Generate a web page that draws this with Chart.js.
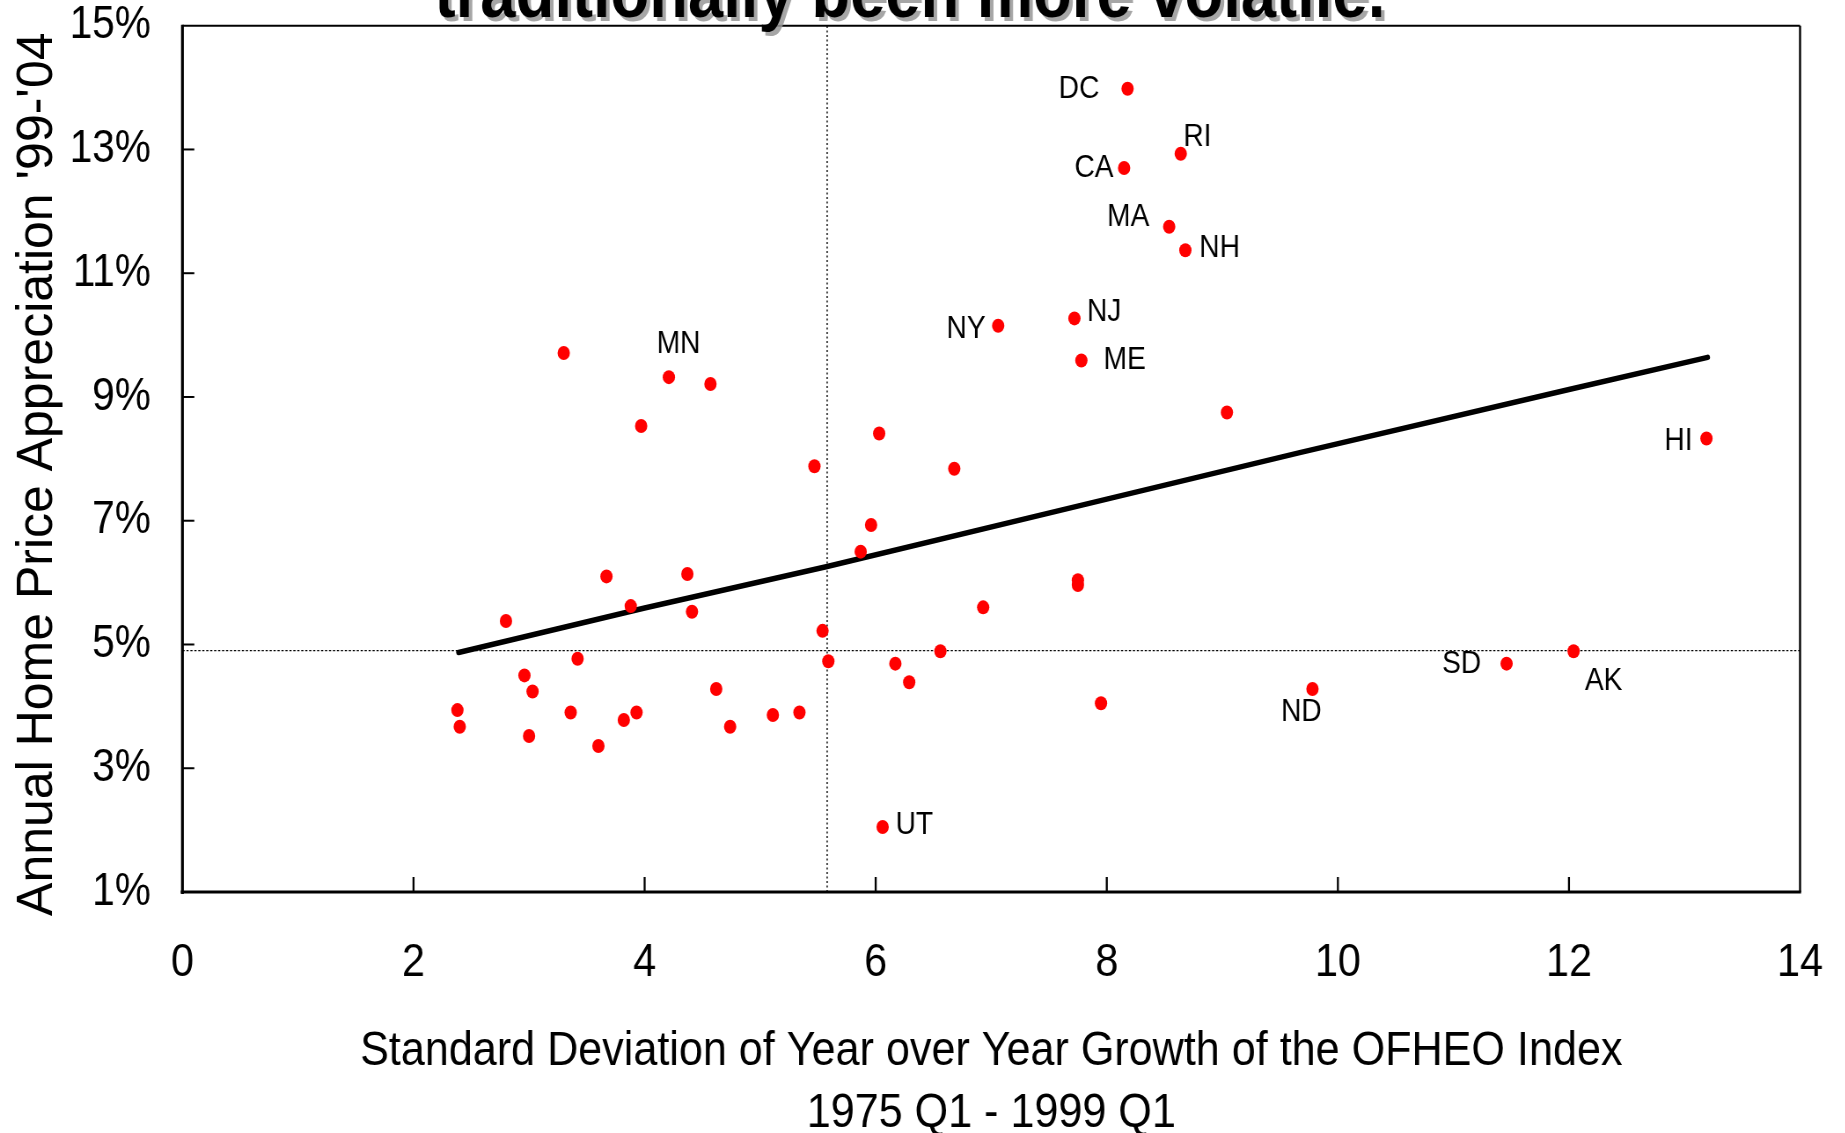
<!DOCTYPE html>
<html>
<head>
<meta charset="utf-8">
<script src="https://cdn.jsdelivr.net/npm/chart.js@4.4.1/dist/chart.umd.min.js"></script>
<style>
  html, body { margin: 0; padding: 0; background: #ffffff; overflow: hidden; }
  #wrap { width: 2097px; height: 1133px; transform: scaleX(0.88); transform-origin: 0 0; }
  canvas { display: block; }
</style>
</head>
<body>
<div id="wrap"><canvas id="chart" width="2097" height="1133"></canvas></div>
<script>
// ---------------- data ----------------
const stateNames = ['', 'MN', '', '', '', 'DC', 'RI', 'CA', 'MA', 'NH', 'NJ', 'NY', 'ME', '', 'HI',
  '', '', '', '', '', '', '', '', '', '', '', '', '', '', '', '', '', '', '', '', '', '', '', '', '', '',
  'UT', '', '', '', '', '', '', 'ND', 'SD', 'AK'];
const volatility = [3.30, 4.21, 4.57, 3.97, 6.03, 8.18, 8.64, 8.15, 8.54, 8.68, 7.72, 7.06, 7.78, 9.04, 13.19,
  5.47, 5.96, 5.87, 3.67, 4.37, 3.88, 4.41, 2.80, 5.54, 3.42, 5.59, 6.17, 6.29, 2.96, 3.03, 4.62, 2.38, 2.40,
  3.36, 3.93, 3.82, 3.00, 3.60, 4.74, 5.11, 5.34, 6.06, 6.68, 7.75, 7.75, 6.93, 6.56, 7.95, 9.78, 11.46, 12.04];
const appreciation = [9.71, 9.32, 9.21, 8.53, 8.41, 13.98, 12.93, 12.70, 11.75, 11.37, 10.27, 10.15, 9.59, 8.75, 8.33,
  7.88, 6.93, 6.50, 6.10, 6.14, 5.62, 5.53, 5.38, 5.22, 4.77, 4.73, 4.69, 4.39, 4.50, 4.24, 4.28, 3.94, 3.67,
  3.90, 3.90, 3.78, 3.52, 3.36, 3.67, 3.86, 3.90, 2.05, 7.84, 6.04, 5.96, 5.60, 4.89, 4.05, 4.28, 4.69, 4.89];
const trendX = [2.39, 4.0, 5.58, 8.0, 9.67, 12.0, 13.20];
const trendY = [4.87, 5.59, 6.26, 7.35, 8.10, 9.12, 9.64];
const meanVolatility = 5.58;
const meanAppreciation = 4.90;
const xTicks = [0, 2, 4, 6, 8, 10, 12, 14];
const yTicks = [1, 3, 5, 7, 9, 11, 13, 15];
const headline = 'traditionally been more volatile.';
const xTitle = ['Standard Deviation of Year over Year Growth of the OFHEO Index', '1975 Q1 - 1999 Q1'];
const yTitle = "Annual Home Price Appreciation '99-'04";

// ---------------- layout / style ----------------
const FONT = '"Liberation Sans", Arial, Helvetica, sans-serif';
const SQUEEZE = 0.88; // horizontal squeeze applied to the whole canvas by CSS
const labelOffsets = {
  DC: [-32, 0, 'right'], RI: [3, -17, 'left'], CA: [-12, 0, 'right'], MA: [-22.5, -10, 'right'],
  NH: [15.8, -2, 'left'], NJ: [14.3, -6, 'left'], NY: [-14.3, 3, 'right'], ME: [25.2, 0, 'left'],
  HI: [-15.8, 3, 'right'], MN: [11, -32.5, 'center'], UT: [14.7, -2, 'left'], ND: [-12.6, 23.5, 'center'],
  SD: [-28.8, 1, 'right'], AK: [34.2, 30, 'center']
};

const points = volatility.map((x, i) => ({ x: x, y: appreciation[i] }));
const trend = trendX.map((x, i) => ({ x: x, y: trendY[i] }));

const framePlugin = {
  id: 'frame',
  afterDatasetsDraw(chart) {
    const { ctx, chartArea: a, scales } = chart;
    const seg = (x1, y1, x2, y2, w) => {
      ctx.beginPath(); ctx.lineWidth = w; ctx.moveTo(x1, y1); ctx.lineTo(x2, y2); ctx.stroke();
    };
    ctx.save();
    ctx.strokeStyle = '#000';
    ctx.lineCap = 'butt';
    seg(a.left, a.top, a.right, a.top, 2);
    seg(a.right, a.top, a.right, a.bottom, 2.4);
    seg(a.left, a.top - 1, a.left, a.bottom + 2, 3.2);
    seg(a.left - 2, a.bottom, a.right + 1.2, a.bottom, 3);
    scales.x.ticks.forEach(t => {
      if (t.value <= scales.x.min || t.value >= scales.x.max) return;
      const px = scales.x.getPixelForValue(t.value);
      seg(px, a.bottom, px, a.bottom - 15, 2.3);
    });
    scales.y.ticks.forEach(t => {
      if (t.value <= scales.y.min || t.value >= scales.y.max) return;
      const py = scales.y.getPixelForValue(t.value);
      seg(a.left, py, a.left + 13.5, py, 2);
    });
    ctx.restore();
  }
};

const labelPlugin = {
  id: 'stateLabels',
  afterDatasetsDraw(chart) {
    const { ctx } = chart;
    const meta = chart.getDatasetMeta(0);
    ctx.save();
    ctx.font = '32px ' + FONT;
    ctx.fillStyle = '#000';
    ctx.textBaseline = 'middle';
    stateNames.forEach((name, i) => {
      if (!name) return;
      const el = meta.data[i];
      const off = labelOffsets[name] || [10, 0, 'left'];
      ctx.textAlign = off[2];
      ctx.fillText(name, el.x + off[0], el.y + off[1]);
    });
    ctx.restore();
  }
};

// y-axis title: drawn rotated, unsqueezed across its glyph height
const yTitlePlugin = {
  id: 'yTitle',
  afterDraw(chart) {
    const { ctx, chartArea: a } = chart;
    ctx.save();
    ctx.translate(58.8, a.bottom - 417.8);
    ctx.scale(1 / SQUEEZE, 1);
    ctx.rotate(-Math.PI / 2);
    ctx.font = '50px ' + FONT;
    ctx.fillStyle = '#000';
    ctx.textAlign = 'center';
    ctx.textBaseline = 'alphabetic';
    ctx.fillText(yTitle, 0, 0);
    ctx.restore();
  }
};

const headlinePlugin = {
  id: 'headline',
  afterDraw(chart) {
    const { ctx } = chart;
    ctx.save();
    ctx.font = 'bold 72px ' + FONT;
    ctx.textAlign = 'center';
    ctx.textBaseline = 'alphabetic';
    ctx.fillStyle = '#000';
    ctx.shadowColor = 'rgba(150,150,150,0.85)';
    ctx.shadowOffsetX = 4;
    ctx.shadowOffsetY = 4;
    ctx.shadowBlur = 0;
    ctx.fillText(headline, 1034, 17);
    ctx.restore();
  }
};

new Chart(document.getElementById('chart'), {
  type: 'scatter',
  data: {
    datasets: [
      { label: 'States', data: points, backgroundColor: '#ff0000', borderWidth: 0,
        pointRadius: 7, pointHoverRadius: 7, showLine: false },
      { label: 'Trend', type: 'line', data: trend, borderColor: '#000', borderWidth: 5.5,
        pointRadius: 0, tension: 0, fill: false, borderCapStyle: 'round' },
      { label: 'Mean volatility', type: 'line', data: [{ x: meanVolatility, y: 1 }, { x: meanVolatility, y: 15 }],
        borderColor: '#000', borderWidth: 1.4, borderDash: [2, 2.5], pointRadius: 0, fill: false },
      { label: 'Mean appreciation', type: 'line', data: [{ x: 0, y: meanAppreciation }, { x: 14, y: meanAppreciation }],
        borderColor: '#000', borderWidth: 1.4, borderDash: [2.5, 2], pointRadius: 0, fill: false }
    ]
  },
  options: {
    responsive: false,
    animation: false,
    devicePixelRatio: 1,
    events: [],
    layout: { padding: { left: 0, right: 51.5, top: 25.7, bottom: 0 } },
    plugins: { legend: { display: false }, tooltip: { enabled: false } },
    scales: {
      x: {
        type: 'linear', min: 0, max: 14,
        afterBuildTicks: s => { s.ticks = xTicks.map(v => ({ value: v })); },
        afterFit: s => { s.height = 241; s.paddingLeft = 0; s.paddingRight = 0; },
        grid: { display: false, drawTicks: false },
        border: { display: false },
        ticks: { color: '#000', padding: 43, font: { family: FONT, size: 47, lineHeight: 1.2 } },
        title: { display: true, text: xTitle, color: '#000',
          font: { family: FONT, size: 49, lineHeight: 1.2755 }, padding: { top: 0, bottom: -12 } }
      },
      y: {
        type: 'linear', min: 1, max: 15,
        afterBuildTicks: s => { s.ticks = yTicks.map(v => ({ value: v })); },
        afterFit: s => { s.width = 207.3; s.paddingTop = 0; s.paddingBottom = 0; },
        grid: { display: false, drawTicks: false },
        border: { display: false },
        ticks: { color: '#000', padding: 36, font: { family: FONT, size: 46 }, callback: v => v + '%' },
        title: { display: false, text: yTitle }
      }
    }
  },
  plugins: [framePlugin, labelPlugin, yTitlePlugin, headlinePlugin]
});
</script>
</body>
</html>
